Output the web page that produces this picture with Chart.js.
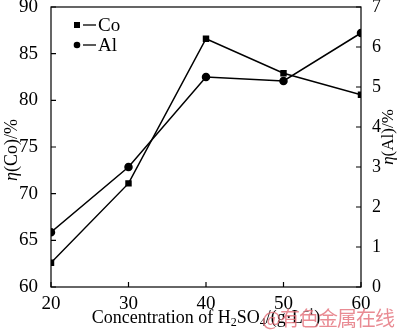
<!DOCTYPE html>
<html>
<head>
<meta charset="utf-8">
<script src="https://cdn.jsdelivr.net/npm/chart.js@4/dist/chart.umd.min.js"></script>
<style>
  html, body { margin: 0; padding: 0; background: #fff; }
  #wrap { position: relative; width: 400px; height: 333px; }
  #mark { position: absolute; left: 262px; top: 303px; font: 20px "Noto Sans CJK SC", sans-serif; color: rgba(228, 110, 120, 0.8); letter-spacing: -1px; }
</style>
</head>
<body>
<div id="wrap">
  <canvas id="chart" width="400" height="333"></canvas>
  <div id="mark">@有色金属在线</div>
</div>
<script>
const concentration = [20, 30, 40, 50, 60];
const etaCo = [62.6, 71.1, 86.6, 82.9, 80.6];
const etaAl = [1.37, 3.0, 5.25, 5.15, 6.35];
const serif = "'Liberation Serif', 'Times New Roman', serif";

// inward ticks, frame, axis titles and legend
const decor = {
  id: "decor",
  afterDraw(chart) {
    const ctx = chart.ctx;
    const a = chart.chartArea;
    const x = chart.scales.x, y = chart.scales.y, y2 = chart.scales.y2;
    ctx.save();
    ctx.strokeStyle = "#000";
    ctx.lineWidth = 1.2;
    ctx.strokeRect(a.left, a.top, a.right - a.left, a.bottom - a.top);
    ctx.beginPath();
    x.ticks.forEach(t => {
      const px = x.getPixelForValue(t.value);
      ctx.moveTo(px, a.bottom); ctx.lineTo(px, a.bottom - 5);
    });
    y.ticks.forEach(t => {
      const py = y.getPixelForValue(t.value);
      ctx.moveTo(a.left, py); ctx.lineTo(a.left + 5, py);
    });
    y2.ticks.forEach(t => {
      const py = y2.getPixelForValue(t.value);
      ctx.moveTo(a.right, py); ctx.lineTo(a.right - 5, py);
    });
    ctx.stroke();

    ctx.fillStyle = "#000";
    ctx.textBaseline = "middle";
    function vTitle(cx, cy, name, size) {
      ctx.save();
      ctx.translate(cx, cy);
      ctx.rotate(-Math.PI / 2);
      ctx.font = "italic " + size + "px " + serif;
      const w1 = ctx.measureText("η").width;
      ctx.font = size + "px " + serif;
      const rest = "(" + name + ")/%";
      const w2 = ctx.measureText(rest).width;
      let sx = -(w1 + w2) / 2;
      ctx.textAlign = "left";
      ctx.font = "italic " + size + "px " + serif;
      ctx.fillText("η", sx, 0);
      ctx.font = size + "px " + serif;
      ctx.fillText(rest, sx + w1, 0);
      ctx.restore();
    }
    vTitle(12, 150, "Co", 18);
    vTitle(389, 137, "Al", 17);

    // x title with sub/superscripts
    const parts = [
      ["Concentration of H", 18, 0], ["2", 12, 5], ["SO", 18, 0], ["4", 12, 5],
      ["/(g·L", 18, 0], ["−1", 11, -6], [")", 18, 0]
    ];
    let total = 0;
    parts.forEach(p => { ctx.font = p[1] + "px " + serif; total += ctx.measureText(p[0]).width; });
    let sx = (a.left + a.right) / 2 - total / 2;
    ctx.textAlign = "left";
    parts.forEach(p => {
      ctx.font = p[1] + "px " + serif;
      ctx.fillText(p[0], sx, 318 + p[2]);
      sx += ctx.measureText(p[0]).width;
    });

    // legend
    const items = [["Co", "rect"], ["Al", "circle"]];
    items.forEach((it, i) => {
      const ly = a.top + 18 + i * 20;
      const lx = a.left + 26;
      ctx.fillStyle = "#000";
      if (it[1] === "rect") ctx.fillRect(lx - 3, ly - 3, 6, 6);
      else { ctx.beginPath(); ctx.arc(lx, ly, 3.3, 0, Math.PI * 2); ctx.fill(); }
      ctx.beginPath(); ctx.lineWidth = 1.3;
      ctx.moveTo(lx + 6, ly); ctx.lineTo(lx + 19, ly); ctx.stroke();
      ctx.font = "19px " + serif;
      ctx.fillText(it[0], lx + 21, ly + 1);
    });
    ctx.restore();
  }
};

function noPad(s) { s.paddingTop = 0; s.paddingBottom = 0; s.paddingLeft = 0; s.paddingRight = 0; }

new Chart(document.getElementById("chart"), {
  type: "line",
  data: {
    datasets: [
      { label: "Co", data: concentration.map((c, i) => ({ x: c, y: etaCo[i] })), yAxisID: "y",
        borderColor: "#000", backgroundColor: "#000", borderWidth: 1.5, pointStyle: "rect", pointRadius: 3.5, tension: 0 },
      { label: "Al", data: concentration.map((c, i) => ({ x: c, y: etaAl[i] })), yAxisID: "y2",
        borderColor: "#000", backgroundColor: "#000", borderWidth: 1.5, pointStyle: "circle", pointRadius: 3.5, tension: 0 }
    ]
  },
  options: {
    responsive: false,
    animation: false,
    layout: { padding: { top: 7, left: 0, right: 0, bottom: 0 } },
    plugins: { legend: { display: false }, tooltip: { enabled: false } },
    scales: {
      x: {
        type: "linear", min: 20, max: 60,
        ticks: { stepSize: 10, color: "#000", font: { family: serif, size: 19 }, padding: -2 },
        grid: { display: false },
        border: { display: false },
        afterFit(s) { s.height = 46; noPad(s); }
      },
      y: {
        position: "left", min: 60, max: 90,
        ticks: { stepSize: 5, color: "#000", font: { family: serif, size: 19 }, padding: 5 },
        grid: { display: false },
        border: { display: false },
        afterFit(s) { s.width = 51; noPad(s); }
      },
      y2: {
        position: "right", min: 0, max: 7,
        ticks: { stepSize: 1, color: "#000", font: { family: serif, size: 18 }, padding: 3 },
        grid: { display: false },
        border: { display: false },
        afterFit(s) { s.width = 39; noPad(s); }
      }
    }
  },
  plugins: [decor]
});
</script>
</body>
</html>
